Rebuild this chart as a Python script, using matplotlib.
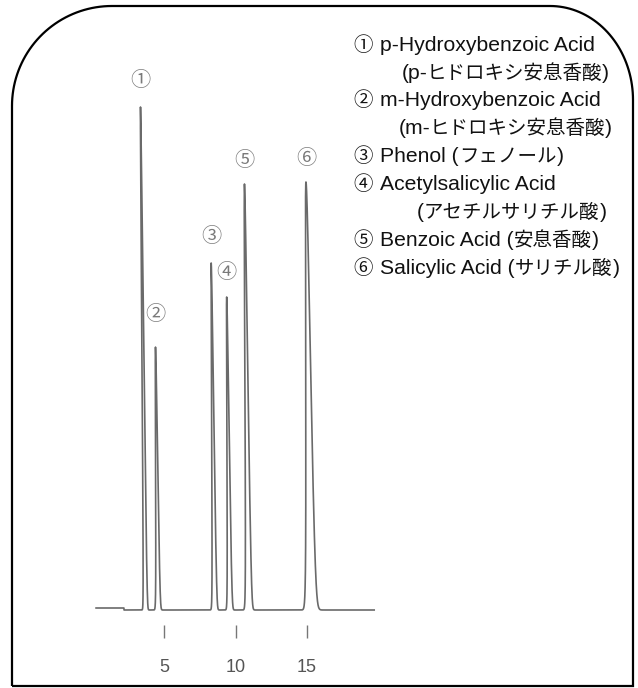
import numpy as np
import matplotlib
matplotlib.use("Agg")
import matplotlib.pyplot as plt
from matplotlib.path import Path
from matplotlib.patches import PathPatch
from matplotlib.transforms import Affine2D

# ---------------- data ----------------
peak_labels = ["①", "②", "③", "④", "⑤", "⑥"]
retention_times = [3.69, 4.58, 8.53, 9.59, 10.91, 15.21]      # min
peak_heights = [503, 263, 347, 313, 426, 428]                 # detector response (a.u.)
peak_sigma_left = [0.055, 0.068, 0.070, 0.072, 0.090, 0.135]  # min
peak_sigma_right = [0.060, 0.072, 0.075, 0.078, 0.100, 0.190] # min
run_start, run_end = 0.25, 19.7
baseline_step_time = 2.2
baseline_step_level = 2.0
x_ticks = [5, 10, 15]
x_tick_labels = ["5", "10", "15"]

legend_lines = [
    "① p-Hydroxybenzoic Acid",
    "(p-ヒドロキシ安息香酸)",
    "② m-Hydroxybenzoic Acid",
    "(m-ヒドロキシ安息香酸)",
    "③ Phenol (フェノール)",
    "④ Acetylsalicylic Acid",
    "(アセチルサリチル酸)",
    "⑤ Benzoic Acid (安息香酸)",
    "⑥ Salicylic Acid (サリチル酸)",
]

# ---------------- layout ----------------
W, H = 638, 688
DPI = 100
legend_x_px = [353, 402, 353, 399, 353, 353, 417, 353, 353]
legend_y0_px, legend_dy_px = 50.7, 27.9
label_dy_px = [26, 32, 27, 25, 23, 24]
LATIN_FONT = dict(family=["Liberation Sans", "DejaVu Sans"], fontsize=15.2)
CJK_FONT = dict(family=["Noto Sans CJK JP", "DejaVu Sans"], fontsize=14)
HYPHEN_TO_CJK_KERN = -1.5  # px
CIRCLED_EXTRA = 2.0        # px

fig = plt.figure(figsize=(W / DPI, H / DPI), dpi=DPI)
fig.patch.set_facecolor("white")

def fx(x):
    return x / W

def fy(y):
    return 1 - y / H

# axes: t=0 at px 92.5, 14.3 px/min ; baseline at px 610
px_per_min = 14.3
ax_left_px, ax_right_px = 92.5, 92.5 + 20 * px_per_min
ax_top_px, ax_bot_px = 60, 638
ax = fig.add_axes([fx(ax_left_px), fy(ax_bot_px),
                   (ax_right_px - ax_left_px) / W, (ax_bot_px - ax_top_px) / H])
ax.set_xlim(0, 20)
ax.set_ylim(-(ax_bot_px - 610), 610 - ax_top_px)
ax.patch.set_alpha(0)
for s in ax.spines.values():
    s.set_visible(False)
ax.set_yticks([])
ax.set_xticks(x_ticks)
ax.set_xticklabels(x_tick_labels, fontfamily="Liberation Sans", fontsize=13, color="#555555")
ax.tick_params(axis="x", direction="in", length=9.4, width=1.0, color="#777777", pad=15)

# chromatogram trace
t = np.arange(run_start, run_end, 0.004)
signal = np.where(t < baseline_step_time, baseline_step_level, 0.0)
for rt, h, sl, sr in zip(retention_times, peak_heights, peak_sigma_left, peak_sigma_right):
    sig = np.where(t < rt, sl, sr)
    signal = signal + h * np.exp(-0.5 * ((t - rt) / sig) ** 2)

# slight skew of the scanned trace (tops lean left)
skew = Affine2D().skew(np.arctan(-0.0095 / px_per_min), 0)
trace_tr = skew + ax.transData
ax.plot(t, signal, color="#6a6a6a", lw=1.2, transform=trace_tr, clip_on=False)

for lab, rt, h, dy in zip(peak_labels, retention_times, peak_heights, label_dy_px):
    ax.annotate(lab, xy=(rt, h), xycoords=trace_tr, xytext=(0, dy),
                textcoords="offset pixels", ha="center", va="center",
                fontsize=14.5, color="#7a7a7a", family=["Noto Sans CJK JP", "DejaVu Sans"])

# legend text: Latin runs and Japanese runs set in their own fonts, placed one after another
renderer = fig.canvas.get_renderer()

def split_runs(s):
    runs = []
    for ch in s:
        kind = "latin" if ord(ch) < 128 else "cjk"
        if ch == " ":
            kind = "latin"
        if runs and runs[-1][0] == kind:
            runs[-1][1] += ch
        else:
            runs.append([kind, ch])
    return runs

def advance(text, style):
    a = fig.text(0, 0, "|" + text + "|", **style)
    b = fig.text(0, 0, "||", **style)
    w = a.get_window_extent(renderer).width - b.get_window_extent(renderer).width
    a.remove()
    b.remove()
    return w

space_adv = advance(" ", LATIN_FONT)

for i, (line, x0) in enumerate(zip(legend_lines, legend_x_px)):
    y = fy(legend_y0_px + i * legend_dy_px)
    x = x0
    prev_body = ""
    for kind, run in split_runs(line):
        style = LATIN_FONT if kind == "latin" else CJK_FONT
        n_lead = len(run) - len(run.lstrip(" "))
        x += n_lead * space_adv
        body = run.lstrip(" ")
        if not body:
            continue
        if kind == "cjk" and n_lead == 0 and prev_body.endswith("-"):
            x += HYPHEN_TO_CJK_KERN
        fig.text(fx(x), y, body, ha="left", va="baseline", color="#111111", **style)
        x += advance(body, style)
        if kind == "cjk" and body[-1] in "①②③④⑤⑥":
            x += CIRCLED_EXTRA
        prev_body = body

# frame with rounded top corners
def arc(cx, cy, rx, ry, a0, a1, n=40):
    a = np.radians(np.linspace(a0, a1, n))
    return list(zip(cx + rx * np.cos(a), cy - ry * np.sin(a)))

pts = [(12, 686)]
pts += arc(112, 106, 100, 100, 180, 90)
pts += arc(550, 100, 83, 94, 90, 0)
pts += [(633, 686), (12, 686)]
verts = [(fx(x), fy(y)) for x, y in pts]
frame = PathPatch(Path(verts), transform=fig.transFigure, fill=False,
                  ec="black", lw=1.6, joinstyle="miter")
fig.patches.append(frame)

fig.savefig("out.png", dpi=DPI, facecolor="white")
